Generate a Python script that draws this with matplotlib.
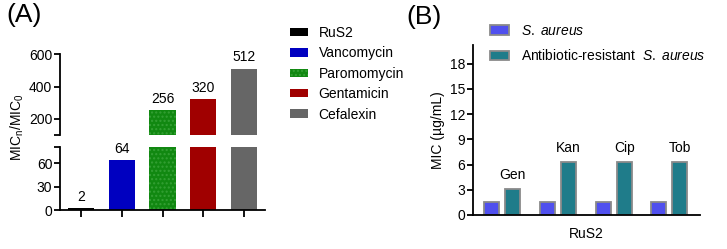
import matplotlib
matplotlib.use("Agg")
import matplotlib.pyplot as plt
from matplotlib.patches import Patch
import numpy as np

plt.rcParams["font.family"] = "Liberation Sans"
plt.rcParams["mathtext.fontset"] = "custom"
plt.rcParams["mathtext.rm"] = "Liberation Sans"
plt.rcParams["mathtext.it"] = "Liberation Sans:italic"
plt.rcParams["hatch.linewidth"] = 1.0

# ── Data ──────────────────────────────────────────────────────────────────────
drugs_a = ["RuS2", "Vancomycin", "Paromomycin", "Gentamicin", "Cefalexin"]
ratio_a = [2, 64, 256, 320, 512]
colors_a = ["#000000", "#0000C0", "#118811", "#A00000", "#666666"]

groups_b = ["Gen", "Kan", "Cip", "Tob"]
mic_sa = [1.5625, 1.5625, 1.5625, 1.5625]
mic_resist = [3.125, 6.25, 6.25, 6.25]

W, H = 727, 249
fig = plt.figure(figsize=(W / 100, H / 100), dpi=100)

def box(x0, y0, x1, y1):
    # pixel box (top-left origin) -> figure fraction
    return [x0 / W, 1 - y1 / H, (x1 - x0) / W, (y1 - y0) / H]

FS = 10

# ── Panel A: broken axis ──────────────────────────────────────────────────────
ax_top = fig.add_axes(box(60, 54.3, 265, 135))
ax_bot = fig.add_axes(box(60, 146.7, 265, 210))
x = np.arange(len(drugs_a))
for ax in (ax_top, ax_bot):
    for xi, v, c in zip(x, ratio_a, colors_a):
        if c == "#118811":
            ax.bar(xi, v, width=0.65, color=c, edgecolor="#34A034",
                   linewidth=0, hatch="....")
        else:
            ax.bar(xi, v, width=0.65, color=c, linewidth=0)
    ax.set_xlim(-0.52, 4.52)
    for s in ("top", "right"):
        ax.spines[s].set_visible(False)
    for s in ("left", "bottom"):
        ax.spines[s].set_linewidth(1.3)
    ax.tick_params(width=1.3, length=4, labelsize=FS, pad=1.5)

ax_top.set_ylim(100, 600)
ax_top.set_yticks([100, 200, 400, 600])
ax_top.set_yticklabels(["", "200", "400", "600"])
ax_top.spines["bottom"].set_visible(False)
ax_top.set_xticks([])

ax_bot.set_ylim(0, 81)
ax_bot.set_yticks([0, 30, 60, 81])
ax_bot.set_yticklabels(["0", "30", "60", ""])
ax_bot.set_xticks(x)
ax_bot.set_xticklabels([])
ax_bot.tick_params(axis="x", length=5)

for xi, v in zip(x, ratio_a):
    ax = ax_top if v > 100 else ax_bot
    ax.annotate(str(v), (xi, v), xytext=(0, 3), textcoords="offset points",
                ha="center", va="bottom", fontsize=FS, clip_on=False)

fig.text(17 / W, 1 - 127 / H, "MIC$_\\mathregular{n}$/MIC$_\\mathregular{0}$",
         rotation=90, ha="center", va="center", fontsize=FS)
fig.text(6 / W, 1 - 15 / H, "(A)", fontsize=19, va="center", ha="left")

handles_a = []
for name, c in zip(drugs_a, colors_a):
    if c == "#118811":
        handles_a.append(Patch(facecolor=c, edgecolor="#34A034", linewidth=0,
                               hatch="....", label=name))
    else:
        handles_a.append(Patch(facecolor=c, linewidth=0, label=name))
fig.legend(handles=handles_a, loc="upper left",
           bbox_to_anchor=(290 / W, 1 - 26 / H), frameon=False, fontsize=FS,
           handlelength=1.3, handleheight=0.55, handletextpad=0.75,
           labelspacing=0.46, borderaxespad=0, borderpad=0)

# ── Panel B ───────────────────────────────────────────────────────────────────
axb = fig.add_axes(box(472.7, 45, 700, 215))
xb = np.arange(len(groups_b))
bw = 0.27
off = 0.189
axb.bar(xb - off, mic_sa, width=bw, color="#5050EE", edgecolor="#8A8A8A",
        linewidth=1.3, label="$\\mathit{S.\\ aureus}$")
bars_r = axb.bar(xb + off, mic_resist, width=bw, color="#1F7C8A",
                 edgecolor="#8A8A8A", linewidth=1.3,
                 label="Antibiotic-resistant  $\\mathit{S.\\ aureus}$")
for b, g in zip(bars_r, groups_b):
    axb.annotate(g, (b.get_x() + b.get_width() / 2, b.get_height()),
                 xytext=(0, 5), textcoords="offset points",
                 ha="center", va="bottom", fontsize=FS)
axb.set_xlim(-0.531, 3.55)
axb.set_ylim(0, 20.2)
axb.set_yticks(np.arange(0, 19, 3))
axb.set_xticks([])
axb.set_xlabel("RuS2", fontsize=FS, labelpad=9)
axb.set_ylabel("MIC (µg/mL)", fontsize=FS, labelpad=3)
for s in ("top", "right"):
    axb.spines[s].set_visible(False)
for s in ("left", "bottom"):
    axb.spines[s].set_linewidth(1.3)
axb.tick_params(width=1.3, length=4, labelsize=FS, pad=1.5)
axb.legend(loc="upper left", bbox_to_anchor=(490 / W, 1 - 24 / H),
           bbox_transform=fig.transFigure, frameon=False, fontsize=FS,
           handlelength=1.4, handleheight=0.7, handletextpad=0.8,
           labelspacing=0.75, borderaxespad=0, borderpad=0)
fig.text(406 / W, 1 - 17 / H, "(B)", fontsize=19, va="center", ha="left")

fig.savefig("out.png", dpi=100)
